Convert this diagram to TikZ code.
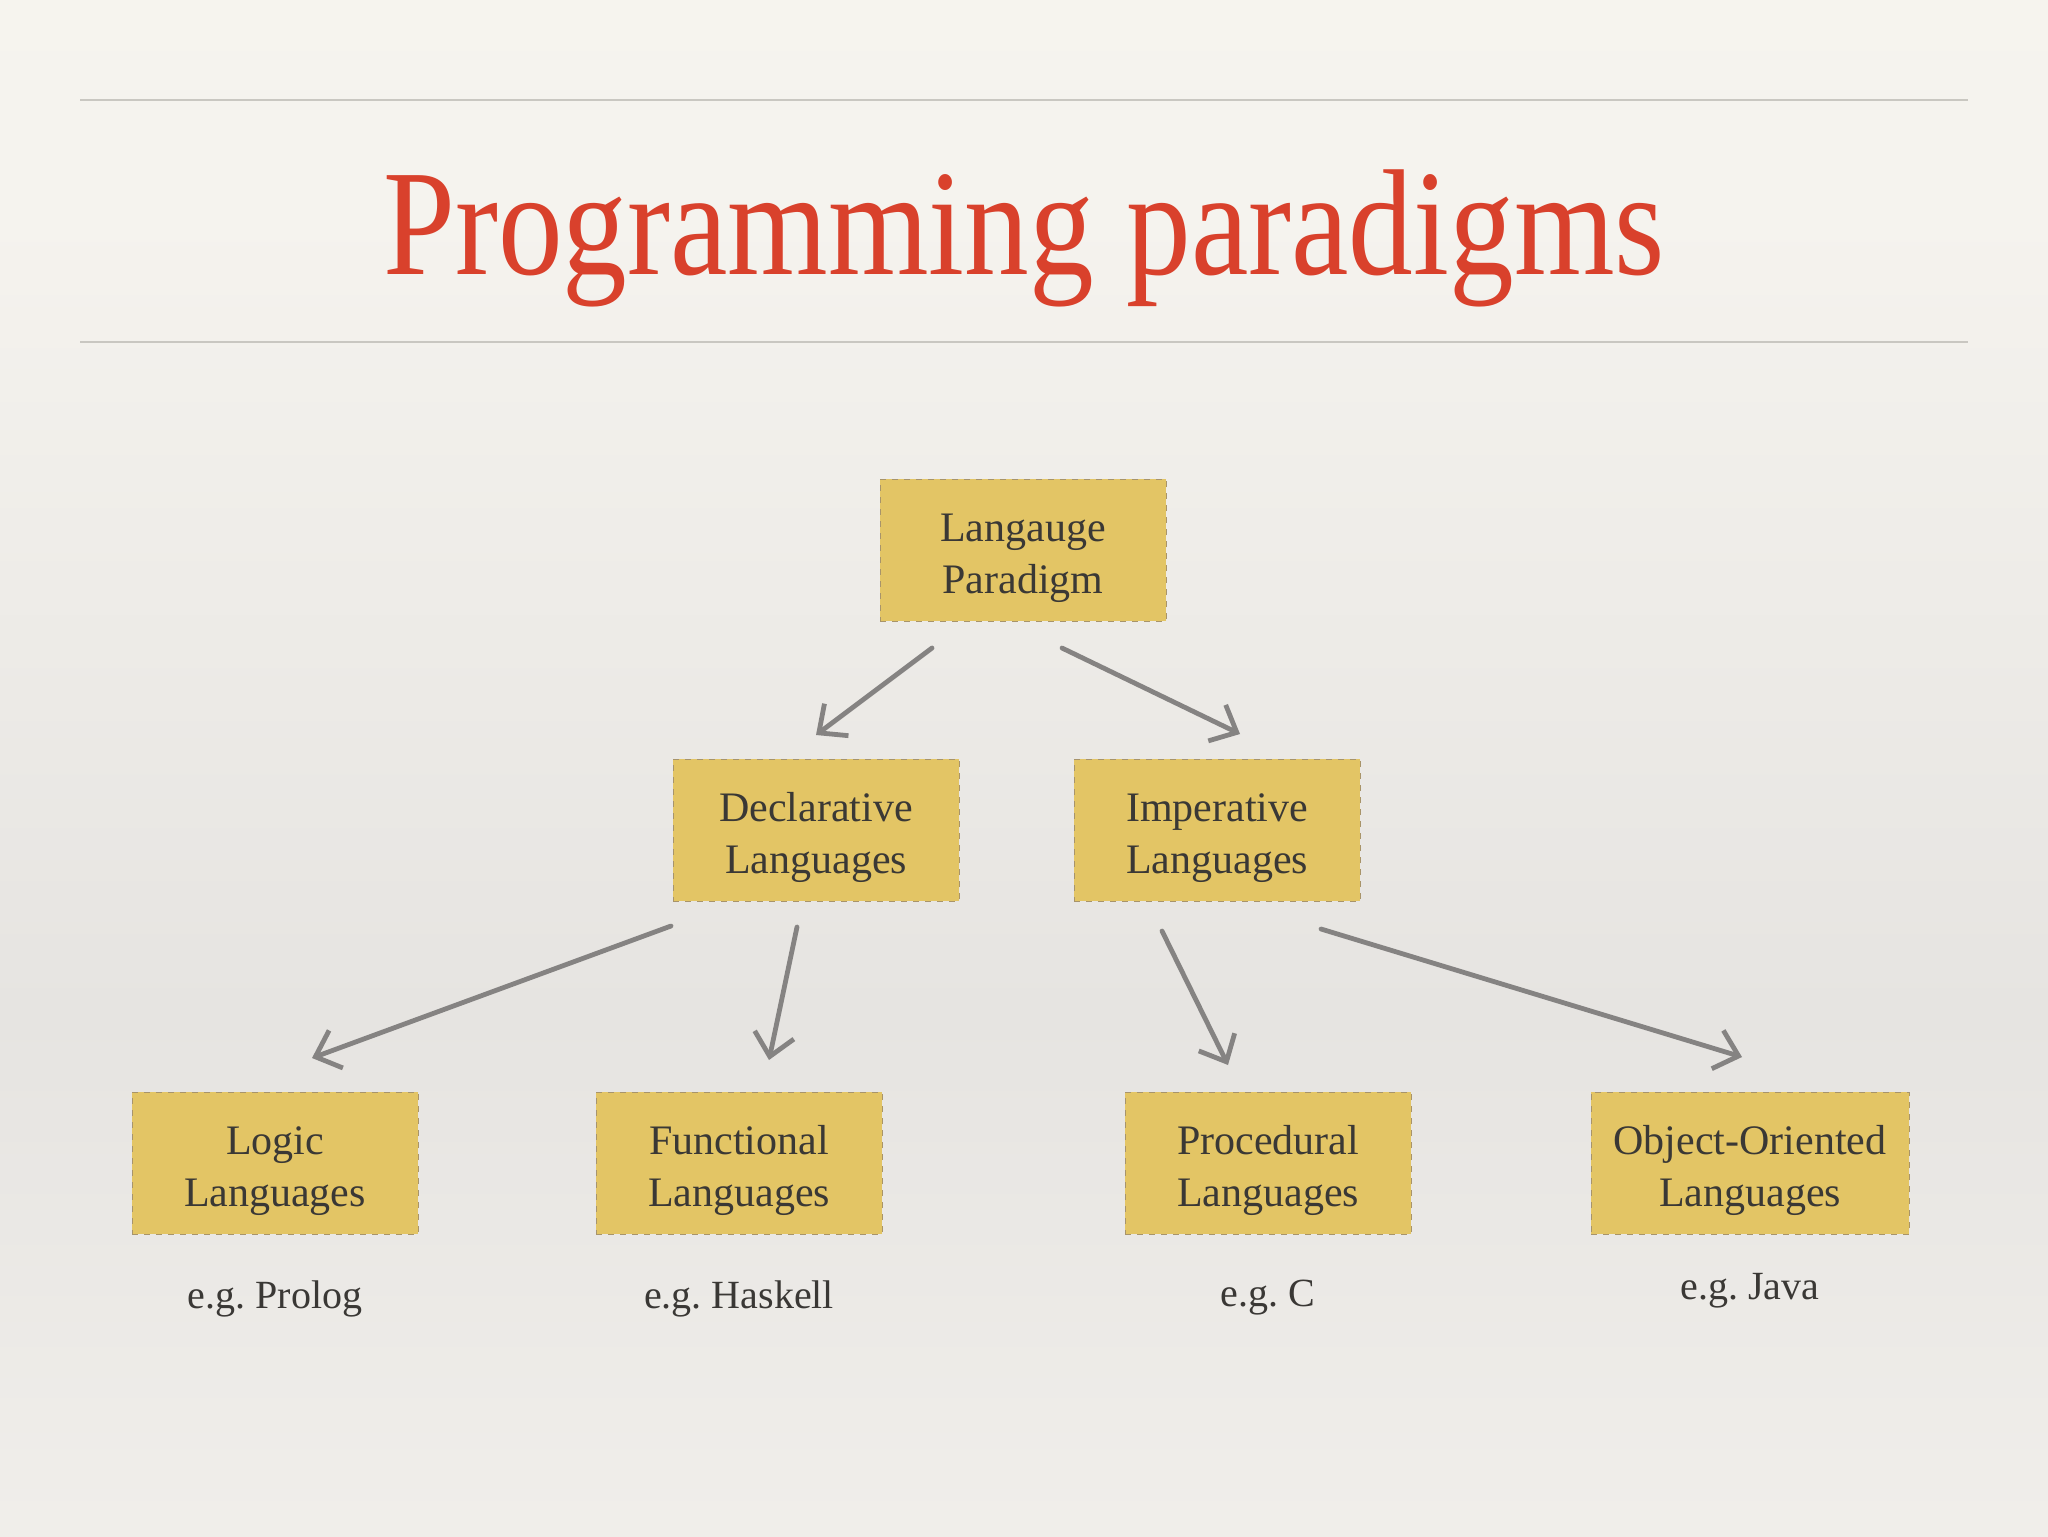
\documentclass[tikz,border=0pt]{standalone}
\usepackage{fontspec}
\usepackage{graphicx}
\setmainfont{Liberation Serif}
\usetikzlibrary{arrows.meta}
\frenchspacing
\definecolor{bgtop}{HTML}{F8F6EF}
\definecolor{bgtopb}{HTML}{F5F3EE}
\definecolor{bgmid}{HTML}{E6E4E1}
\definecolor{bgbotb}{HTML}{F2F0EC}
\definecolor{bgbot}{HTML}{F8F6F1}
\definecolor{rulec}{HTML}{C9C7C1}
\definecolor{titlered}{HTML}{D9412C}
\definecolor{boxfill}{HTML}{E3C565}
\definecolor{boxedge}{HTML}{A8946A}
\definecolor{ink}{HTML}{3A3835}
\definecolor{chalk}{HTML}{858382}
\newcommand{\boxtop}{\rule{0pt}{22pt}}
\pgfdeclareverticalshading{slidebg}{100bp}{color(0bp)=(bgbot); color(22bp)=(bgbotb); color(42bp)=(bgmid); color(68bp)=(bgtopb); color(100bp)=(bgtop)}
\begin{document}
\begin{tikzpicture}[x=0.5pt,y=-0.5pt,
  stepbox/.style={rectangle, fill=boxfill, draw=boxedge, dashed, line width=0.5pt,
    minimum width=143pt, minimum height=71pt, inner sep=0pt, align=center,
    text=ink, font=\fontsize{21}{26}\selectfont},
  widebox/.style={stepbox, minimum width=159pt},
  eglabel/.style={anchor=base, inner sep=0pt, text=ink, font=\fontsize{20}{24}\selectfont},
  rulestyle/.style={draw=rulec, line width=1.2pt},
  chalkarrow/.style={draw=chalk, line width=2.4pt, line cap=round,
    -{Straight Barb[length=11pt, width=20pt, line width=2.4pt]}}]
\fill[shading=slidebg] (0,0) rectangle (2048,1536);
\useasboundingbox (0,0) rectangle (2048,1536);

% rules
\coordinate (r1a) at (80,100);
\coordinate (r1b) at (1968,100);
\coordinate (r2a) at (80,342);
\coordinate (r2b) at (1968,342);
\draw[rulestyle] (r1a) -- (r1b);
\draw[rulestyle] (r2a) -- (r2b);

% title
\node[anchor=base, inner sep=0pt, text=titlered] (title) at (1024,274)
  {\scalebox{0.856}[1]{\fontsize{75.5}{80}\selectfont Programming paradigms}};

% boxes
\node[stepbox] (root) at (1023,550) {\boxtop Langauge\\Paradigm};
\node[stepbox] (decl) at (816,830) {\boxtop Declarative\\Languages};
\node[stepbox] (imp) at (1217,830) {\boxtop Imperative\\Languages};
\node[stepbox] (logic) at (275,1163) {\boxtop Logic\\Languages};
\node[stepbox] (func) at (739,1163) {\boxtop Functional\\Languages};
\node[stepbox] (proc) at (1268,1163) {\boxtop Procedural\\Languages};
\node[widebox] (oo) at (1750,1163) {\boxtop Object-Oriented\\Languages};

% examples
\node[eglabel] (egprolog) at (275,1308) {e.g. Prolog};
\node[eglabel] (eghaskell) at (739,1308) {e.g. Haskell};
\node[eglabel] (egc) at (1268,1306) {e.g. C};
\node[eglabel] (egjava) at (1750,1299) {e.g. Java};

% arrow end points
\coordinate (a1s) at (932,648);
\coordinate (a1e) at (816,735);
\coordinate (a2s) at (1062,648);
\coordinate (a2e) at (1240,734);
\coordinate (a3s) at (671,926);
\coordinate (a3e) at (312,1058);
\coordinate (a4s) at (797,927);
\coordinate (a4e) at (769,1060);
\coordinate (a5s) at (1162,931);
\coordinate (a5e) at (1228,1065);
\coordinate (a6s) at (1321,929);
\coordinate (a6e) at (1742,1057);

\draw[chalkarrow] (a1s) -- (a1e);
\draw[chalkarrow] (a2s) -- (a2e);
\draw[chalkarrow] (a3s) -- (a3e);
\draw[chalkarrow] (a4s) -- (a4e);
\draw[chalkarrow] (a5s) -- (a5e);
\draw[chalkarrow] (a6s) -- (a6e);
\end{tikzpicture}
\end{document}
